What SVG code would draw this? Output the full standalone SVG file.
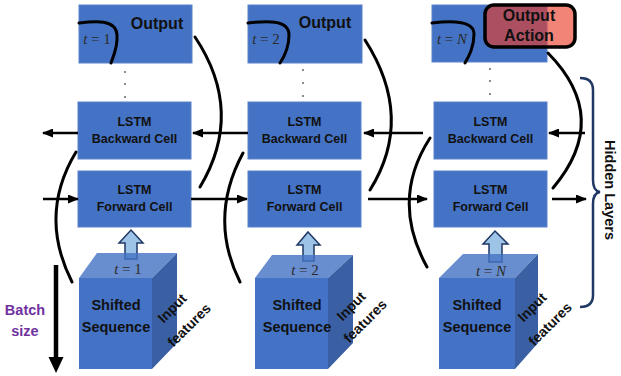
<svg xmlns="http://www.w3.org/2000/svg" width="621" height="376" viewBox="0 0 621 376">
<defs>
<marker id="ah" markerUnits="userSpaceOnUse" markerWidth="11" markerHeight="9" refX="10" refY="4.5" orient="auto">
<path d="M0,0 L11,4.5 L0,9 z" fill="#000"/>
</marker>
<style>
.box{fill:#4472C4;stroke:#5A82CB;stroke-width:1}
.lbl{font-family:"Liberation Sans",Arial,sans-serif;font-weight:bold;fill:#111;text-anchor:middle}
.cell{font-size:12.5px}
.out{font-size:16px}
.seq{font-size:14.5px}
.feat{font-size:14px}
.math{font-family:"Liberation Serif","Times New Roman",serif;font-size:15px;fill:#2b2b2b;text-anchor:middle}
.arr{fill:none;stroke:#000;stroke-width:2.5;marker-end:url(#ah)}
.curve{fill:none;stroke:#000;stroke-width:3;stroke-linecap:round}
.front{fill:#4472C4}
.top{fill:#4472C4;fill-opacity:0.8}
.side{fill:#3A5FA3}
.up{fill:#9DC3E6;stroke:#203864;stroke-width:1.5;stroke-linejoin:miter}
.dot{fill:#555}
</style>
</defs>

<!-- Output boxes -->
<g id="output1">
<rect class="box" x="79" y="5" width="113" height="58"/>
<text class="lbl out" x="157" y="29">Output</text>
<text class="math" x="97" y="44"><tspan font-style="italic">t</tspan> = 1</text>
</g>
<g id="output2">
<rect class="box" x="248" y="5" width="114" height="58"/>
<text class="lbl out" x="325" y="28">Output</text>
<text class="math" x="266" y="44"><tspan font-style="italic">t</tspan> = 2</text>
</g>
<g id="output3">
<rect class="box" x="432" y="5" width="115" height="57"/>
<text class="math" x="452" y="44"><tspan font-style="italic">t</tspan> = <tspan font-style="italic">N</tspan></text>
</g>

<!-- dots -->
<g id="dots">
<circle class="dot" cx="125" cy="72" r="0.9"/><circle class="dot" cx="125" cy="84" r="0.9"/><circle class="dot" cx="125" cy="97" r="0.9"/>
<circle class="dot" cx="303" cy="70" r="0.9"/><circle class="dot" cx="303" cy="83" r="0.9"/><circle class="dot" cx="303" cy="96" r="0.9"/>
<circle class="dot" cx="490" cy="69" r="0.9"/><circle class="dot" cx="490" cy="81" r="0.9"/><circle class="dot" cx="490" cy="94" r="0.9"/>
</g>

<!-- LSTM cells -->
<g id="bwd1"><rect class="box" x="78" y="102" width="113" height="57"/>
<text class="lbl cell" x="134.5" y="126">LSTM</text><text class="lbl cell" x="134.5" y="143">Backward Cell</text></g>
<g id="fwd1"><rect class="box" x="78" y="171" width="113" height="56"/>
<text class="lbl cell" x="134.5" y="194">LSTM</text><text class="lbl cell" x="134.5" y="211">Forward Cell</text></g>
<g id="bwd2"><rect class="box" x="248" y="102" width="113" height="57"/>
<text class="lbl cell" x="304.5" y="126">LSTM</text><text class="lbl cell" x="304.5" y="143">Backward Cell</text></g>
<g id="fwd2"><rect class="box" x="248" y="171" width="113" height="56"/>
<text class="lbl cell" x="304.5" y="194">LSTM</text><text class="lbl cell" x="304.5" y="211">Forward Cell</text></g>
<g id="bwd3"><rect class="box" x="434" y="102" width="113" height="57"/>
<text class="lbl cell" x="490.5" y="126">LSTM</text><text class="lbl cell" x="490.5" y="143">Backward Cell</text></g>
<g id="fwd3"><rect class="box" x="434" y="171" width="113" height="56"/>
<text class="lbl cell" x="490.5" y="194">LSTM</text><text class="lbl cell" x="490.5" y="211">Forward Cell</text></g>

<!-- Output Action -->
<g id="output-action">
<rect x="485" y="5" width="90" height="42" rx="9" fill="#E93C28" fill-opacity="0.63" stroke="#000" stroke-width="3.5"/>
<text class="lbl out" x="529" y="21">Output</text>
<text class="lbl out" x="529" y="41">Action</text>
</g>

<!-- input up arrows -->
<g id="up-arrows">
<path class="up" d="M131,230 L143,243 L137,243 L137,259 L125,259 L125,243 L119,243 Z"/>
<path class="up" d="M308,232 L320,245 L314,245 L314,261 L303,261 L303,245 L297,245 Z"/>
<path class="up" d="M495,231 L508,244 L502,244 L502,262 L489,262 L489,244 L483,244 Z"/>
</g>

<!-- Cubes -->
<g id="seq1">
<polygon class="top" points="79,278 97,253 177,253 152,278"/>
<polygon class="side" points="152,278 177,253 177,343 152,369"/>
<rect class="front" x="79" y="278" width="73" height="91"/>
<text class="math" x="128" y="274"><tspan font-style="italic">t</tspan> = 1</text>
<text class="lbl seq" x="116" y="310">Shifted</text>
<text class="lbl seq" x="116" y="332">Sequence</text>
<text class="lbl feat" transform="translate(172,308) rotate(-45)" x="0" y="5">Input</text>
<text class="lbl feat" transform="translate(189,325) rotate(-45)" x="0" y="5">features</text>
</g>
<g id="seq2">
<polygon class="top" points="255,278 272,255 353,255 328,278"/>
<polygon class="side" points="328,278 353,255 353,343 328,369"/>
<rect class="front" x="255" y="278" width="73" height="91"/>
<text class="math" x="305" y="275"><tspan font-style="italic">t</tspan> = 2</text>
<text class="lbl seq" x="297" y="310">Shifted</text>
<text class="lbl seq" x="297" y="332">Sequence</text>
<text class="lbl feat" transform="translate(351,306) rotate(-45)" x="0" y="5">Input</text>
<text class="lbl feat" transform="translate(365,321) rotate(-45)" x="0" y="5">features</text>
</g>
<g id="seq3">
<polygon class="top" points="439,278 463,254 538,254 515,278"/>
<polygon class="side" points="515,278 538,254 538,343 515,369"/>
<rect class="front" x="439" y="278" width="76" height="91"/>
<text class="math" x="491" y="276"><tspan font-style="italic">t</tspan> = <tspan font-style="italic">N</tspan></text>
<text class="lbl seq" x="477" y="310">Shifted</text>
<text class="lbl seq" x="477" y="332">Sequence</text>
<text class="lbl feat" transform="translate(532,307) rotate(-45)" x="0" y="5">Input</text>
<text class="lbl feat" transform="translate(550,324) rotate(-45)" x="0" y="5">features</text>
</g>

<!-- Connectors -->
<g id="connectors">
<path class="arr" d="M78,133 L43,133"/>
<path class="arr" d="M248,133 L193,133"/>
<path class="arr" d="M423,133 L364,133"/>
<path class="arr" d="M585,133 L549,133"/>
<path class="arr" d="M43,199 L78,199"/>
<path class="arr" d="M191,199 L247,199"/>
<path class="arr" d="M368,199 L427,199"/>
<path class="arr" d="M552,199 L586,199"/>
<path class="curve" d="M195,37 Q245,112 200,187"/>
<path class="curve" d="M365,40 Q415,118 370,190"/>
<path class="curve" d="M548,53 Q612,118 553,188"/>
<path class="curve" d="M76,152 Q38,215 72,282"/>
<path class="curve" d="M243,153 Q208,218 240,282"/>
<path class="curve" d="M430,138 Q390,200 427,267"/>
<path class="curve" d="M79,23 C95,21 116,19 117,35 C118,47 113,57 111,63"/>
<path class="curve" d="M248,23 C265,21 289,19 289,35 C289,48 284,57 280,63"/>
<path class="curve" d="M432,23 C450,21 474,20 474,34 C474,47 469,56 465,63"/>
</g>

<!-- Hidden layers brace -->
<g id="hidden-layers">
<path d="M580,78 Q593,78 593,90 L593,180 Q593,191 600,192 Q593,193 593,204 L593,295 Q593,307 580,307" fill="none" stroke="#1F3864" stroke-width="2.5"/>
<text class="lbl" font-size="14.5" transform="translate(605,190) rotate(90)" x="0" y="0">Hidden Layers</text>
</g>

<!-- Batch size -->
<g id="batch">
<line x1="56" y1="265" x2="56" y2="359" stroke="#000" stroke-width="4.5"/>
<polygon points="48.5,357 63.5,357 56,373" fill="#000"/>
<text class="lbl" font-size="14.5" style="fill:#7030A0" x="25" y="315">Batch</text>
<text class="lbl" font-size="14.5" style="fill:#7030A0" x="25" y="336">size</text>
</g>
</svg>
